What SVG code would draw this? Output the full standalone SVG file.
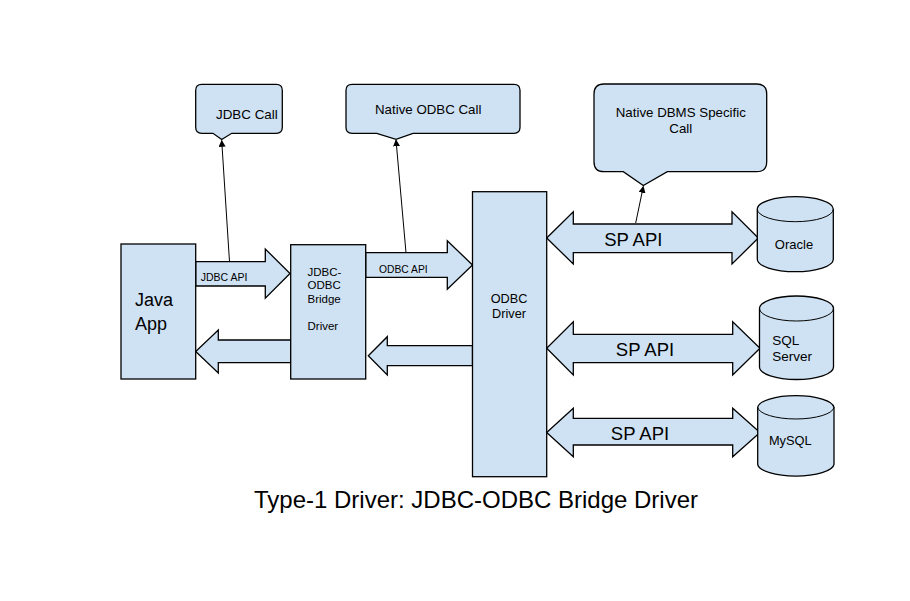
<svg xmlns="http://www.w3.org/2000/svg" width="910" height="601" viewBox="0 0 910 601">
<style>
.s{fill:#cfe2f3;stroke:#000;stroke-width:1.3;stroke-linejoin:miter}
.t{font-family:"Liberation Sans",Arial,sans-serif;fill:#000}
.c{stroke:#000;stroke-width:1;fill:none}
</style>
<defs>
<marker id="ah" viewBox="0 0 10 10" refX="9" refY="5" markerWidth="7" markerHeight="7" markerUnits="userSpaceOnUse" orient="auto">
<path d="M0,0 L10,5 L0,10 Z" fill="#000"/>
</marker>
</defs>
<rect width="910" height="601" fill="#fff"/>

<g id="connectors">
<polygon class="s" points="195.7,261.7 265.3,261.7 265.3,249 290,273.5 265.3,298.3 265.3,286 195.7,286"/>
<polygon class="s" points="290.7,340 218.3,340 218.3,330 195.7,351.5 218.3,373 218.3,362.7 290.7,362.7"/>
<polygon class="s" points="365.7,252.7 447.3,252.7 447.3,240.7 472.5,265 447.3,289.3 447.3,277.3 365.7,277.3"/>
<polygon class="s" points="472.5,345.7 387.3,345.7 387.3,336.7 368.3,355.8 387.3,375 387.3,365.7 472.5,365.7"/>
<polygon class="s" points="546.7,238 573.3,211.7 573.3,224 732,224 732,211.7 758.3,238 732,264 732,252.7 573.3,252.7 573.3,264"/>
<polygon class="s" points="546.7,348.3 573.3,321.7 573.3,334.3 732.7,334.3 732.7,321.7 760,348.3 732.7,375 732.7,362.7 573.3,362.7 573.3,375"/>
<polygon class="s" points="546.7,432.5 573.3,408.3 573.3,418.3 732.7,418.3 732.7,408.3 760,432.5 732.7,456.7 732.7,445 573.3,445 573.3,456.7"/>
<text class="t" x="200.7" y="280.5" font-size="10.5">JDBC API</text>
<text class="t" x="379" y="272.5" font-size="10.3">ODBC API</text>
<text class="t" x="633.3" y="246" font-size="18.5" text-anchor="middle">SP API</text>
<text class="t" x="645" y="355.5" font-size="18.5" text-anchor="middle">SP API</text>
<text class="t" x="640" y="440" font-size="18.5" text-anchor="middle">SP API</text>
<line class="c" x1="229.5" y1="261.7" x2="221.7" y2="140.5" marker-end="url(#ah)"/>
<line class="c" x1="406" y1="252.7" x2="396" y2="140" marker-end="url(#ah)"/>
<line class="c" x1="635.7" y1="223" x2="643.3" y2="186.5" marker-end="url(#ah)"/>
</g>

<g id="java-app">
<rect class="s" x="121" y="244" width="74.7" height="135"/>
<text class="t" x="135" y="306" font-size="18">Java</text>
<text class="t" x="135" y="330" font-size="18">App</text>
</g>

<g id="bridge-driver">
<rect class="s" x="290.7" y="244.7" width="75" height="134.3"/>
<text class="t" font-size="11.5"><tspan x="307.5" y="275.5">JDBC-</tspan><tspan x="307.5" y="289">ODBC</tspan><tspan x="307.5" y="302.5">Bridge</tspan><tspan x="307.5" y="329.5">Driver</tspan></text>
</g>

<g id="odbc-driver">
<rect class="s" x="472.5" y="191.7" width="74.2" height="285"/>
<text class="t" font-size="12.7" text-anchor="middle"><tspan x="509" y="302.7">ODBC</tspan><tspan x="509" y="317.5">Driver</tspan></text>
</g>

<g id="jdbc-call">
<path class="s" d="M201.7,84.3 H276.3 Q282.3,84.3 282.3,90.3 V127.3 Q282.3,133.3 276.3,133.3 H231.7 L221.7,139.5 L213,133.3 H201.7 Q195.7,133.3 195.7,127.3 V90.3 Q195.7,84.3 201.7,84.3 Z"/>
<text class="t" x="216" y="118.5" font-size="13.4">JDBC Call</text>
</g>

<g id="native-odbc-call">
<path class="s" d="M352,84.3 H514 Q520,84.3 520,90.3 V127.3 Q520,133.3 514,133.3 H413 L396,139.3 L376.7,133.3 H352 Q346,133.3 346,127.3 V90.3 Q346,84.3 352,84.3 Z"/>
<text class="t" x="375" y="114.3" font-size="13.3">Native ODBC Call</text>
</g>

<g id="native-dbms-call">
<path class="s" d="M604,84 H756.7 Q766.7,84 766.7,94 V161.7 Q766.7,171.7 756.7,171.7 H667.3 L643.3,185.5 L623.3,171.7 H604 Q594,171.7 594,161.7 V94 Q594,84 604,84 Z"/>
<text class="t" font-size="13.3" text-anchor="middle"><tspan x="680.8" y="116.7">Native DBMS Specific</tspan><tspan x="680.8" y="133.3">Call</tspan></text>
</g>

<g id="oracle">
<path class="s" d="M757.3,209.2 A38,12.5 0 0 1 833.3,209.2 V259.2 A38,12.5 0 0 1 757.3,259.2 Z"/>
<path class="c" stroke-width="1.3" d="M757.3,209.2 A38,12.5 0 0 0 833.3,209.2"/>
<text class="t" x="794" y="248.5" font-size="13" text-anchor="middle">Oracle</text>
</g>

<g id="sql-server">
<path class="s" d="M759.5,308.5 A37,12.5 0 0 1 833.5,308.5 V367 A37,12.5 0 0 1 759.5,367 Z"/>
<path class="c" stroke-width="1.3" d="M759.5,308.5 A37,12.5 0 0 0 833.5,308.5"/>
<text class="t" font-size="13.5"><tspan x="772.3" y="345">SQL</tspan><tspan x="772.3" y="360.5">Server</tspan></text>
</g>

<g id="mysql">
<path class="s" d="M757.7,407.3 A38.2,12.3 0 0 1 834,407.3 V464.4 A38.2,12.3 0 0 1 757.7,464.4 Z"/>
<path class="c" stroke-width="1.3" d="M757.7,407.3 A38.2,12.3 0 0 0 834,407.3"/>
<text class="t" x="790.3" y="445" font-size="12.8" text-anchor="middle">MySQL</text>
</g>

<text class="t" x="476" y="507.5" font-size="24" text-anchor="middle">Type-1 Driver: JDBC-ODBC Bridge Driver</text>
</svg>
